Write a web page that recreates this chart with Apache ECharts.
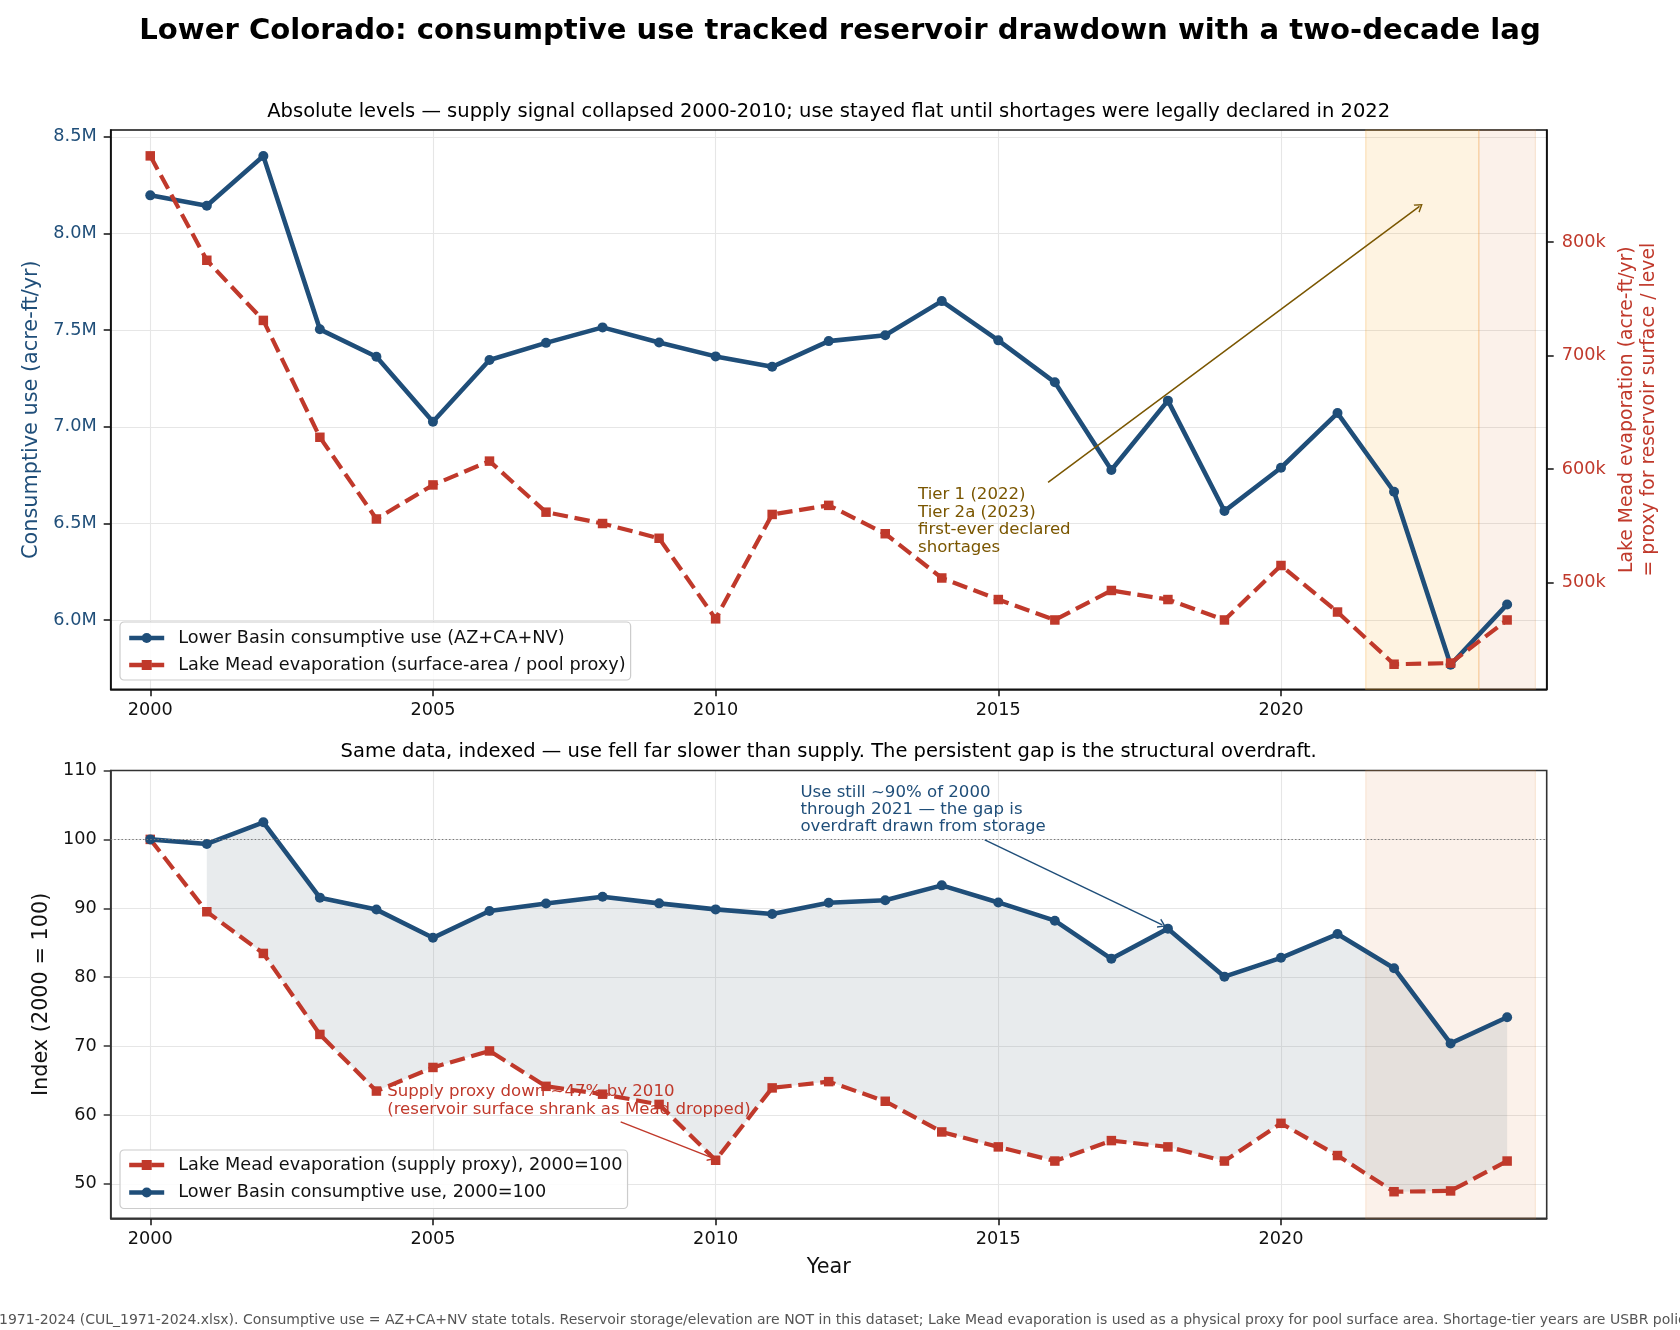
<!DOCTYPE html>
<html><head><meta charset="utf-8">
<script src="https://cdn.jsdelivr.net/npm/echarts@6/dist/echarts.min.js"></script>
<style>html,body{margin:0;padding:0;background:#fff}#c{width:1680px;height:1330px}</style>
</head><body><div id="c"></div>
<script>
// ---------- data ----------
const years = [2000,2001,2002,2003,2004,2005,2006,2007,2008,2009,2010,2011,2012,2013,2014,2015,2016,2017,2018,2019,2020,2021,2022,2023,2024];
// Lower Basin consumptive use (AZ+CA+NV), acre-ft/yr
const useAF = [8197000,8143000,8400000,7504000,7362000,7026000,7345000,7434000,7514000,7436000,7364000,7310000,7443000,7473000,7650000,7447000,7230000,6776000,7135000,6564000,6788000,7071000,6664000,5769000,6081000];
// Lake Mead evaporation, acre-ft/yr
const evapAF = [876000,784000,731000,628000,556000,586000,607000,562000,552000,539000,468000,560000,568000,543000,504000,485000,467000,493000,485000,467000,515000,474000,428000,429000,467000];
const xTicks = [2000,2005,2010,2015,2020];
const useTicks = [6000000,6500000,7000000,7500000,8000000,8500000];
const evapTicks = [500000,600000,700000,800000];
const idxTicks = [50,60,70,80,90,100,110];
const tierBands = [[2021.5,2023.5],[2023.5,2024.5]];

// index (2000 = 100) derived from the arrays above
const useIdx = useAF.map(v => v / useAF[0] * 100);
const evapIdx = evapAF.map(v => v / evapAF[0] * 100);

const NAVY = '#1f4e79', RED = '#c0392b', BROWN = '#7a5600';
const FF = 'DejaVu Sans';
const CHEV = 'path://M5,0 L10,9 L8.6,9.6 L5,3 L1.4,9.6 L0,9 Z';

const chart = echarts.init(document.getElementById('c'), null, {renderer:'canvas'});

function xAxisCfg(gi, extra) {
  return Object.assign({
    gridIndex: gi, type:'value', min:1999.3, max:2024.7,
    axisLine:{show:true, onZero:false, lineStyle:{color:'#111', width:1.6}},
    axisTick:{show:true, customValues:xTicks, length:7, lineStyle:{color:'#111', width:1.5}},
    axisLabel:{customValues:xTicks, fontSize:17.7, color:'#111', margin:12, fontFamily:FF, formatter: v => String(v)},
    splitLine:{show:true, lineStyle:{color:'#e6e6e6', width:1.1}}
  }, extra || {});
}

const option = {
  animation:false,
  textStyle:{fontFamily:FF},
  grid:[
    {left:110.7, top:130, width:1436, height:559.3, show:true, z:1, borderColor:'#111', borderWidth:1.6, backgroundColor:'rgba(0,0,0,0)', containLabel:false, outerBoundsMode:'none'},
    {left:110.7, top:770.5, width:1436, height:447.8, show:true, z:1, borderColor:'#333', borderWidth:1.6, backgroundColor:'rgba(0,0,0,0)', containLabel:false, outerBoundsMode:'none'}
  ],
  xAxis:[
    xAxisCfg(0),
    xAxisCfg(1, {name:'Year', nameLocation:'middle', nameGap:39, nameTextStyle:{fontSize:20.8, color:'#111', fontFamily:FF}})
  ],
  yAxis:[
    {gridIndex:0, type:'value', position:'left', min:5642000, max:8535000,
     name:'Consumptive use (acre-ft/yr)', nameLocation:'middle', nameRotate:90, nameGap:69,
     nameTextStyle:{fontSize:20.8, color:NAVY, fontFamily:FF},
     axisLine:{show:true, onZero:false, lineStyle:{color:'#111', width:1.6}},
     axisTick:{show:true, customValues:useTicks, length:7, lineStyle:{color:'#111', width:1.5}},
     axisLabel:{customValues:useTicks, fontSize:17.7, color:NAVY, margin:14, fontFamily:FF, formatter: v => (v/1e6).toFixed(1)+'M'},
     splitLine:{show:true, lineStyle:{color:'#e6e6e6', width:1.1}}},
    {gridIndex:0, type:'value', position:'right', min:405900, max:898800,
     name:'Lake Mead evaporation (acre-ft/yr)\n= proxy for reservoir surface / level', nameLocation:'middle', nameRotate:90, nameGap:67,
     nameTextStyle:{fontSize:18.8, lineHeight:21.7, color:RED, fontFamily:FF, align:'center'},
     axisLine:{show:true, onZero:false, lineStyle:{color:'#111', width:1.6}},
     axisTick:{show:true, customValues:evapTicks, length:7, lineStyle:{color:'#111', width:1.5}},
     axisLabel:{customValues:evapTicks, fontSize:17.7, color:RED, margin:15, fontFamily:FF, formatter: v => Math.round(v/1000)+'k'},
     splitLine:{show:false}},
    {gridIndex:1, type:'value', position:'left', min:45, max:110,
     name:'Index (2000 = 100)', nameLocation:'middle', nameRotate:90, nameGap:58,
     nameTextStyle:{fontSize:20.8, color:'#111', fontFamily:FF},
     axisLine:{show:true, onZero:false, lineStyle:{color:'#333', width:1.6}},
     axisTick:{show:true, customValues:idxTicks, length:7, lineStyle:{color:'#333', width:1.5}},
     axisLabel:{customValues:idxTicks, fontSize:17.7, color:'#111', margin:14, fontFamily:FF},
     splitLine:{show:true, lineStyle:{color:'#e6e6e6', width:1.1}}}
  ],
  legend:[
    {left:120, top:622, orient:'vertical', z:10,
     data:['Lower Basin consumptive use (AZ+CA+NV)','Lake Mead evaporation (surface-area / pool proxy)'],
     itemWidth:35, itemHeight:12.5, itemGap:9, padding:[7,5,6,7],
     lineStyle:{width:4.4},
     backgroundColor:'rgba(255,255,255,0.85)', borderColor:'#cccccc', borderWidth:1.2, borderRadius:4,
     textStyle:{fontSize:17.7, color:'#111', fontFamily:FF, padding:[0,0,0,9]}},
    {left:120, top:1150, orient:'vertical', z:10,
     data:['Lake Mead evaporation (supply proxy), 2000=100','Lower Basin consumptive use, 2000=100'],
     itemWidth:35, itemHeight:12.5, itemGap:9.5, padding:[6,5,7,7],
     lineStyle:{width:4.4},
     backgroundColor:'rgba(255,255,255,0.85)', borderColor:'#cccccc', borderWidth:1.2, borderRadius:4,
     textStyle:{fontSize:17.7, color:'#111', fontFamily:FF, padding:[0,0,0,9]}}
  ],
  series:[
    {type:'line', name:'_bandsTop', xAxisIndex:0, yAxisIndex:0, data:[], z:0.5, silent:true,
     markArea:{silent:true, data:[
       [{xAxis:tierBands[0][0], itemStyle:{color:'rgba(250,165,20,0.13)', borderColor:'rgba(245,160,40,0.28)', borderWidth:1.2}}, {xAxis:tierBands[0][1]}],
       [{xAxis:tierBands[1][0], itemStyle:{color:'rgba(215,120,50,0.10)', borderColor:'rgba(230,140,60,0.18)', borderWidth:1.2}}, {xAxis:tierBands[1][1]}]
     ]}},
    {type:'line', name:'Lower Basin consumptive use (AZ+CA+NV)', xAxisIndex:0, yAxisIndex:0, z:3,
     data: years.map((y,i)=>[y,useAF[i]]),
     symbol:'circle', symbolSize:10, showSymbol:true,
     lineStyle:{color:NAVY, width:4.6}, itemStyle:{color:NAVY},
     emphasis:{disabled:true},
     markLine:{silent:true, animation:false, symbol:['none',CHEV], symbolSize:[10,8], label:{show:false},
       lineStyle:{color:BROWN, width:1.5, type:'solid'}, emphasis:{disabled:true},
       data:[[{coord:[2015.88,6712000]},{coord:[2022.45,8140000]}]]}},
    {type:'line', name:'Lake Mead evaporation (surface-area / pool proxy)', xAxisIndex:0, yAxisIndex:1, z:4,
     data: years.map((y,i)=>[y,evapAF[i]]),
     symbol:'rect', symbolSize:9.5, showSymbol:true,
     lineStyle:{color:RED, width:4.2, type:[15.4,6.7]}, itemStyle:{color:RED},
     emphasis:{disabled:true}},

    {type:'line', name:'_bandsBot', xAxisIndex:1, yAxisIndex:2, data:[], z:0.5, silent:true,
     markArea:{silent:true, data:[
       [{xAxis:tierBands[0][0], itemStyle:{color:'rgba(215,120,50,0.10)', borderColor:'rgba(230,140,60,0.16)', borderWidth:1.2}}, {xAxis:tierBands[1][1]}]
     ]},
     markLine:{silent:true, animation:false, symbol:['none','none'], label:{show:false},
       lineStyle:{color:'#777', width:1.2, type:[1.4,2.2]}, emphasis:{disabled:true},
       data:[{yAxis:100}]}},
    {type:'custom', name:'_gap', xAxisIndex:1, yAxisIndex:2, z:1, silent:true,
     data:[[2001,100]],
     renderItem:(params, api) => {
       const pts = [];
       for (let i = 1; i < years.length; i++) pts.push(api.coord([years[i], useIdx[i]]));
       for (let i = years.length-1; i >= 1; i--) pts.push(api.coord([years[i], evapIdx[i]]));
       return {type:'polygon', shape:{points:pts}, style:{fill:'rgba(112,128,144,0.16)'}};
     }},
    {type:'line', name:'Lake Mead evaporation (supply proxy), 2000=100', xAxisIndex:1, yAxisIndex:2, z:3,
     data: years.map((y,i)=>[y,evapIdx[i]]),
     symbol:'rect', symbolSize:9.5, showSymbol:true,
     lineStyle:{color:RED, width:4.2, type:[15.4,6.7]}, itemStyle:{color:RED},
     emphasis:{disabled:true},
     markLine:{silent:true, animation:false, symbol:['none',CHEV], symbolSize:[10,8], label:{show:false},
       lineStyle:{color:RED, width:1.5, type:'solid'}, emphasis:{disabled:true},
       data:[[{coord:[2008.32,58.99]},{coord:[2009.93,53.8]}]]}},
    {type:'line', name:'Lower Basin consumptive use, 2000=100', xAxisIndex:1, yAxisIndex:2, z:4,
     data: years.map((y,i)=>[y,useIdx[i]]),
     symbol:'circle', symbolSize:10, showSymbol:true,
     lineStyle:{color:NAVY, width:4.6}, itemStyle:{color:NAVY},
     emphasis:{disabled:true},
     markLine:{silent:true, animation:false, symbol:['none',CHEV], symbolSize:[10,8], label:{show:false},
       lineStyle:{color:NAVY, width:1.5, type:'solid'}, emphasis:{disabled:true},
       data:[[{coord:[2014.76,99.92]},{coord:[2017.9,87.6]}]]}}
  ]
};
chart.setOption(option);

// ---------- text annotations (anchored in data space) ----------
function px(gridIdx, yIdx, pt) {
  return chart.convertToPixel({xAxisIndex:gridIdx, yAxisIndex:yIdx}, pt);
}
function multiText(p, text, color, size, lh) {
  return {type:'text', z:20, silent:true,
    style:{x:p[0], y:p[1]-lh/2, text:text, fill:color, fontSize:size, lineHeight:lh, fontFamily:FF,
      textAlign:'left', textVerticalAlign:'top'}};
}
const tierP = px(0, 0, [2013.58, 6647000]);
const useP = px(1, 2, [2011.5, 106.78]);
const supP = px(1, 2, [2004.19, 63.39]);

chart.setOption({graphic:[
  {type:'text', z:20, silent:true, style:{x:840, y:31.7, text:'Lower Colorado: consumptive use tracked reservoir drawdown with a two-decade lag',
    fill:'#000', fontSize:29.1, fontWeight:'bold', fontFamily:FF, textAlign:'center', textVerticalAlign:'middle'}},
  {type:'text', z:20, silent:true, style:{x:828.7, y:112.3, text:'Absolute levels \u2014 supply signal collapsed 2000-2010; use stayed flat until shortages were legally declared in 2022',
    fill:'#000', fontSize:19.5, fontFamily:FF, textAlign:'center', textVerticalAlign:'middle'}},
  {type:'text', z:20, silent:true, style:{x:828.7, y:752.1, text:'Same data, indexed \u2014 use fell far slower than supply. The persistent gap is the structural overdraft.',
    fill:'#000', fontSize:19.5, fontFamily:FF, textAlign:'center', textVerticalAlign:'middle'}},
  multiText(tierP, 'Tier 1 (2022)\nTier 2a (2023)\nfirst-ever declared\nshortages', BROWN, 16.6, 17.5),
  multiText(useP, 'Use still ~90% of 2000\nthrough 2021 \u2014 the gap is\noverdraft drawn from storage', NAVY, 16.6, 17.2),
  multiText(supP, 'Supply proxy down ~47% by 2010\n(reservoir surface shrank as Mead dropped)', RED, 16.6, 17.7),
  {type:'text', z:20, silent:true, style:{x:-1, y:1320, text:'1971-2024 (CUL_1971-2024.xlsx). Consumptive use = AZ+CA+NV state totals. Reservoir storage/elevation are NOT in this dataset; Lake Mead evaporation is used as a physical proxy for pool surface area. Shortage-tier years are USBR policy declarations, not computed.',
    fill:'#555', fontSize:14, fontFamily:FF, textAlign:'left', textVerticalAlign:'middle'}}
]});
</script>
</body></html>
